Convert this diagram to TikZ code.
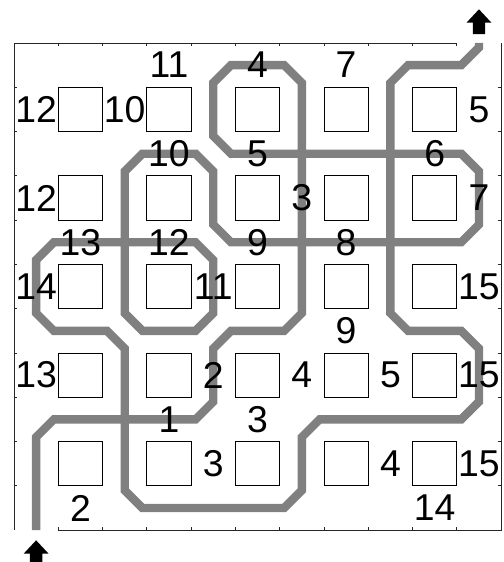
\documentclass[tikz,border=0pt]{standalone}
\usepackage{fontspec}
\setmainfont{Liberation Sans}
\begin{document}
\begin{tikzpicture}[x=1cm,y=-1cm,
  lbl/.style={font=\fontsize{24}{28}\selectfont, inner sep=0pt},
  cell/.style={draw, minimum size=1cm, inner sep=0pt, line width=0.6pt},
  route/.style={draw=gray, line width=5.4pt}]
\useasboundingbox (0.184,-0.471) rectangle (11.545,12.22);

% frame with ticks
\draw[black!85, line width=0.6pt] (10.5,0.5) -- (0.5,0.5) -- (0.5,11.5);
\draw[black!85, line width=0.6pt] (1.5,11.5) -- (11.5,11.5) -- (11.5,0.5);
\foreach \t in {1.5,2.5,...,10.5} {
  \draw[black!85, line width=0.5pt] (\t,0.5) -- ++(0,0.07);
  \draw[black!85, line width=0.5pt] (\t,11.5) -- ++(0,-0.07);
  \draw[black!85, line width=0.5pt] (0.5,\t) -- ++(0.07,0);
  \draw[black!85, line width=0.5pt] (11.5,\t) -- ++(-0.07,0);
}

% the route
\draw[route] (1,11.5) -- (1,9.4) -- (1.4,9) -- (4.6,9) -- (5,8.6) -- (5,7.4)
  -- (5.4,7) -- (6.6,7) -- (7,6.6) -- (7,1.4) -- (6.6,1) -- (5.4,1) -- (5,1.4)
  -- (5,2.6) -- (5.4,3) -- (10.6,3) -- (11,3.4) -- (11,4.6) -- (10.6,5)
  -- (5.4,5) -- (5,4.6) -- (5,3.4) -- (4.6,3) -- (3.4,3) -- (3,3.4) -- (3,6.6)
  -- (3.4,7) -- (4.6,7) -- (5,6.6) -- (5,5.4) -- (4.6,5) -- (1.4,5) -- (1,5.4)
  -- (1,6.6) -- (1.4,7) -- (2.6,7) -- (3,7.4) -- (3,10.6) -- (3.4,11)
  -- (6.6,11) -- (7,10.6) -- (7,9.4) -- (7.4,9) -- (10.6,9) -- (11,8.6)
  -- (11,7.4) -- (10.6,7) -- (9.4,7) -- (9,6.6) -- (9,1.4) -- (9.4,1)
  -- (10.6,1) -- (11,0.6) -- (11,0.5);

% in and out arrows
\foreach \p/\q in {11/0.3, 1/12.29}
  \fill (\p,\q) ++(-0.14,0) -- ++(0,-0.26) -- ++(-0.14,0) -- ++(0.28,-0.3)
    -- ++(0.28,0.3) -- ++(-0.14,0) -- ++(0,0.26) -- cycle;

% cells
\foreach \i in {1,...,5}
  \foreach \j in {1,...,5}
    \node[cell] (cell-\i-\j) at (2*\i,2*\j) {};

% numbers
\foreach \x/\y/\t in {4/1/11, 6/1/4, 8/1/7,
    1/2/12, 3/2/10, 11/2/5,
    4/3/10, 6/3/5, 10/3/6,
    1/4/12, 7/4/3, 11/4/7,
    2/5/13, 4/5/12, 6/5/9, 8/5/8,
    1/6/14, 5/6/11, 11/6/15,
    8/7/9,
    1/8/13, 5/8/2, 7/8/4, 9/8/5, 11/8/15,
    4/9/1, 6/9/3,
    5/10/3, 9/10/4, 11/10/15,
    2/11/2, 10/11/14}
  \node[lbl] (num-\x-\y) at (\x,\y) {\t};
\end{tikzpicture}
\end{document}
